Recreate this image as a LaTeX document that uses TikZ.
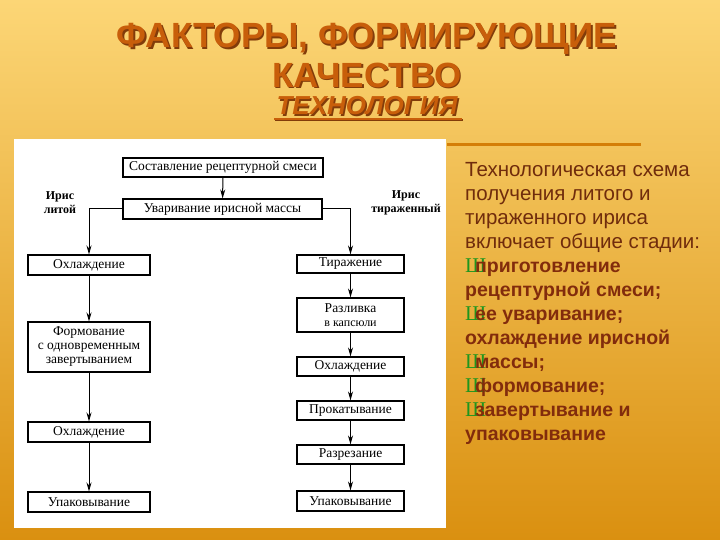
\documentclass[tikz,border=0pt]{standalone}
\usepackage{fontspec}
\setmainfont{Liberation Serif}
\newfontfamily\arialfont{Liberation Sans}
\usetikzlibrary{arrows.meta}

\definecolor{bgtop}{RGB}{252,214,118}
\definecolor{bgbot}{RGB}{218,144,16}
\definecolor{titleorange}{RGB}{200,94,10}
\definecolor{titleshadow}{RGB}{130,60,10}
\definecolor{textbrown}{RGB}{112,44,12}
\definecolor{boldbrown}{RGB}{130,44,12}
\definecolor{bulletgreen}{RGB}{30,150,30}
\definecolor{barorange}{RGB}{212,126,8}

\newcommand\bulsh{\makebox[10pt][l]{\fontsize{21}{21}\rmfamily\mdseries\color{bulletgreen}Ш}}

\tikzset{
  stage/.style={draw=black, line width=1.1pt, fill=white, inner sep=0pt,
    align=center, font=\fontsize{13.5}{14}\selectfont},
  flow/.style={-{Stealth[length=9pt,width=5pt]}, line width=1pt},
  kind/.style={align=center, font=\bfseries\fontsize{12}{14}\selectfont},
  headline/.style={font=\arialfont\bfseries\fontsize{35}{35}\selectfont},
  subhead/.style={font=\arialfont\bfseries\itshape\fontsize{26}{26}\selectfont}
}

\begin{document}
\begin{tikzpicture}[x=1pt,y=-1pt]
\useasboundingbox (0,0) rectangle (720,540);
\shade[top color=bgtop, bottom color=bgbot] (0,0) rectangle (720,540);

% title
\node[headline, text=titleshadow] (t1s) at (368.5,40.5) {ФАКТОРЫ, ФОРМИРУЮЩИЕ};
\node[headline, text=titleorange] (t1) at (367,39) {ФАКТОРЫ, ФОРМИРУЮЩИЕ};
\node[headline, text=titleshadow] (t2s) at (368.5,76.5) {КАЧЕСТВО};
\node[headline, text=titleorange] (t2) at (367,75) {КАЧЕСТВО};
\node[subhead, text=titleshadow] (t3s) at (368.5,107.5) {ТЕХНОЛОГИЯ};
\node[subhead, text=titleorange] (t3) at (367,106) {ТЕХНОЛОГИЯ};
\draw[titleshadow, line width=2pt] (275,120) -- (463,120);
\draw[titleorange, line width=2pt] (274,119) -- (462,119);

% panel and bar
\fill[white] (14,139) rectangle (446,528);
\draw[barorange, line width=3pt] (447,145) -- (641,145);

% flow chart
\node[stage, minimum width=200pt, minimum height=19pt] (recipe) at (223,167.5) {Составление рецептурной смеси};
\node[stage, minimum width=199pt, minimum height=20pt] (boil) at (222.5,209) {Уваривание ирисной массы};
\node[kind] (cast) at (60,203) {Ирис\\литой};
\node[kind] (pulled) at (406,203) {Ирис\\тираженный};

\node[stage, minimum width=122pt, minimum height=20pt] (coolA) at (89,265) {Охлаждение};
\node[stage, minimum width=122pt, minimum height=50pt] (form) at (89,347) {Формование\\с одновременным\\завертыванием};
\node[stage, minimum width=122pt, minimum height=20pt] (coolB) at (89,432) {Охлаждение};
\node[stage, minimum width=122pt, minimum height=20pt] (packA) at (89,502) {Упаковывание};

\node[stage, minimum width=107pt, minimum height=18pt] (pull) at (350.5,264) {Тиражение};
\node[stage, minimum width=107pt, minimum height=34pt] (pour) at (350.5,315) {Разливка\\{\fontsize{12}{13}\selectfont в капсюли}};
\node[stage, minimum width=107pt, minimum height=19pt] (coolC) at (350.5,366.5) {Охлаждение};
\node[stage, minimum width=107pt, minimum height=19pt] (roll) at (350.5,410.5) {Прокатывание};
\node[stage, minimum width=107pt, minimum height=19pt] (cut) at (350.5,454.5) {Разрезание};
\node[stage, minimum width=107pt, minimum height=20pt] (packB) at (350.5,501) {Упаковывание};

\draw[flow] (recipe) -- (boil);
\draw[flow] (boil.west) -| (coolA.north);
\draw[flow] (boil.east) -| (pull.north);
\foreach \a/\b in {coolA/form,form/coolB,coolB/packA,pull/pour,pour/coolC,coolC/roll,roll/cut,cut/packB}
  \draw[flow] (\a) -- (\b);

% right text
\node[anchor=north west, inner sep=0pt, align=left, text=textbrown,
  font=\arialfont\fontsize{19.5}{24}\selectfont] (notes) at (465,162)
  {{\fontsize{20.5}{24}\selectfont Технологическая схема}\\
   {\fontsize{20.5}{24}\selectfont получения литого и}\\
   {\fontsize{20.5}{24}\selectfont тираженного ириса}\\
   {\fontsize{20.5}{24}\selectfont включает общие стадии:}\\
   \color{boldbrown}\bfseries\bulsh приготовление\\
   \color{boldbrown}\bfseries рецептурной смеси;\\
   \color{boldbrown}\bfseries\bulsh ее уваривание;\\
   \color{boldbrown}\bfseries охлаждение ирисной\\
   \color{boldbrown}\bfseries\bulsh массы;\\
   \color{boldbrown}\bfseries\bulsh формование;\\
   \color{boldbrown}\bfseries\bulsh завертывание и\\
   \color{boldbrown}\bfseries упаковывание};
\end{tikzpicture}
\end{document}
